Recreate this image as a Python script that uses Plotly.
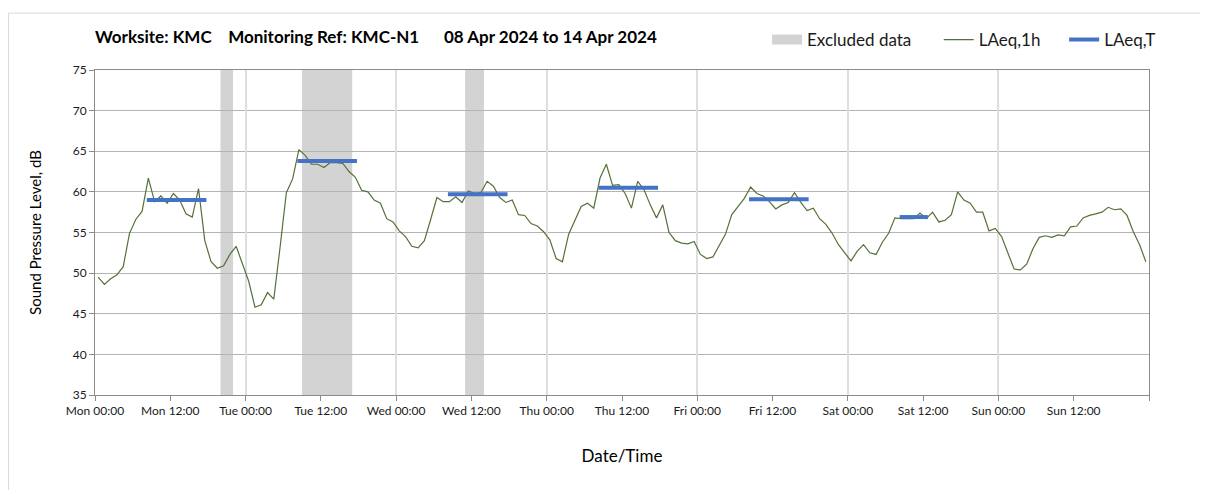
import pandas as pd
import plotly.graph_objs as go

# LAeq,1h values (dB), one per hour from Mon 08 Apr 2024 00:30
laeq_1h = [
    49.5, 48.6, 49.3, 49.8, 50.8, 54.9, 56.6, 57.6, 61.7, 58.8,
    59.5, 58.6, 59.8, 59.0, 57.3, 56.9, 60.4, 54.0, 51.4, 50.6,
    50.9, 52.3, 53.3, 51.1, 49.0, 45.8, 46.1, 47.6, 46.8, 53.2,
    59.9, 61.6, 65.2, 64.5, 63.4, 63.4, 63.0, 63.6, 63.6, 63.5,
    62.5, 61.8, 60.2, 60.0, 59.0, 58.6, 56.7, 56.3, 55.2, 54.5,
    53.3, 53.1, 54.0, 56.6, 59.3, 58.8, 58.8, 59.4, 58.7, 60.1,
    59.8, 59.9, 61.3, 60.7, 59.3, 58.7, 59.0, 57.2, 57.1, 56.1,
    55.8, 55.1, 54.1, 51.8, 51.4, 54.8, 56.5, 58.2, 58.6, 58.0,
    61.7, 63.4, 60.8, 60.9, 59.8, 58.0, 61.3, 60.3, 58.4, 56.8,
    58.4, 55.0, 54.0, 53.7, 53.6, 53.9, 52.3, 51.8, 52.0, 53.4,
    54.8, 57.2, 58.2, 59.2, 60.6, 59.8, 59.5, 58.8, 57.9, 58.4,
    58.7, 59.9, 58.7, 57.7, 58.0, 56.7, 56.0, 54.9, 53.5, 52.5,
    51.5, 52.7, 53.5, 52.5, 52.3, 53.8, 54.9, 56.8, 56.7, 56.7,
    56.7, 57.4, 56.7, 57.5, 56.3, 56.5, 57.2, 60.0, 59.0, 58.6,
    57.5, 57.5, 55.2, 55.5, 54.5, 52.5, 50.5, 50.4, 51.1, 53.0,
    54.4, 54.6, 54.4, 54.7, 54.6, 55.7, 55.8, 56.8, 57.1, 57.3,
    57.5, 58.1, 57.8, 57.9, 57.1, 55.1, 53.5, 51.4,
]

# LAeq,T daytime periods
laeqt_start = ["2024-04-08 08:15", "2024-04-09 08:15", "2024-04-10 08:15",
               "2024-04-11 08:15", "2024-04-12 08:15", "2024-04-13 08:15"]
laeqt_end = ["2024-04-08 17:45", "2024-04-09 17:45", "2024-04-10 17:45",
             "2024-04-11 17:45", "2024-04-12 17:45", "2024-04-13 12:45"]
laeqt_values = [59.0, 63.8, 59.7, 60.5, 59.1, 56.9]

# excluded data periods
excl_start = ["2024-04-08 20:00", "2024-04-09 09:00", "2024-04-10 11:00"]
excl_end = ["2024-04-08 22:00", "2024-04-09 17:00", "2024-04-10 14:00"]

tick_labels = ["Mon 00:00", "Mon 12:00", "Tue 00:00", "Tue 12:00", "Wed 00:00",
               "Wed 12:00", "Thu 00:00", "Thu 12:00", "Fri 00:00", "Fri 12:00",
               "Sat 00:00", "Sat 12:00", "Sun 00:00", "Sun 12:00", ""]

FONT = "Lato"
x_start, x_end = "2024-04-08 00:00", "2024-04-15 00:00"
H = 482

times = pd.date_range("2024-04-08 00:30", periods=len(laeq_1h), freq="h")
tickvals = pd.date_range(x_start, periods=len(tick_labels), freq="12h")

fig = go.Figure()

# legend entry for excluded data (the rectangles themselves are shapes)
fig.add_trace(go.Scatter(x=[None], y=[None], mode="lines", name="Excluded data",
                         line=dict(color="#D3D3D3", width=13), legend="legend"))

fig.add_trace(go.Scatter(x=times, y=laeq_1h, mode="lines", name="LAeq,1h",
                         line=dict(color="#56703A", width=1.2), legend="legend2"))

tx, ty = [], []
for s, e, v in zip(laeqt_start, laeqt_end, laeqt_values):
    tx += [s, e, None]
    ty += [v, v, None]
fig.add_trace(go.Scatter(x=tx, y=ty, mode="lines", name="LAeq,T",
                         line=dict(color="#4472C4", width=4), legend="legend3"))

# dummy trace on the overlay axis so its daily gridlines are drawn
fig.add_trace(go.Scatter(x=[x_start], y=[None], xaxis="x2", showlegend=False,
                         hoverinfo="skip"))

for s, e in zip(excl_start, excl_end):
    fig.add_shape(type="rect", xref="x", yref="paper", x0=s, x1=e, y0=0, y1=1,
                  fillcolor="#D3D3D3", line_width=0, layer="below")

# outer chart border
fig.add_shape(type="rect", xref="paper", yref="paper", x0=-0.082, x1=1.2,
              y0=-0.5, y1=1.175, line=dict(color="#D9D9D9", width=1),
              fillcolor="rgba(0,0,0,0)")

leg = dict(orientation="h", xanchor="left", yref="container", y=1 - 32 / H,
           yanchor="middle", font=dict(size=17, family=FONT, color="#1a1a1a"),
           bgcolor="rgba(0,0,0,0)")

fig.update_layout(
    width=1200, height=H,
    margin=dict(l=87, r=59, t=58, b=95),
    plot_bgcolor="white", paper_bgcolor="white",
    font=dict(family=FONT, color="#000000", size=12),
    title=dict(text="<b>Worksite: KMC    Monitoring Ref: KMC-N1      08 Apr 2024 to 14 Apr 2024</b>",
               x=0, xref="paper", xanchor="left", y=1 - 29 / H, yref="container",
               yanchor="middle", font=dict(size=17, family=FONT, color="#000000")),
    legend=dict(leg, x=0.6376),
    legend2=dict(leg, x=0.8005),
    legend3=dict(leg, x=0.9195),
    xaxis=dict(type="date", range=[x_start, x_end], tickvals=tickvals,
               ticktext=tick_labels, ticks="outside", ticklen=5, tickcolor="#8C8C8C",
               showgrid=False, showline=True, linecolor="#8C8C8C", mirror=True,
               automargin=False, tickfont=dict(size=12, color="#1a1a1a"),
               title=dict(text="Date/Time", font=dict(size=17), standoff=32)),
    xaxis2=dict(type="date", range=[x_start, x_end], overlaying="x", dtick=86400000,
                tick0=x_start, showticklabels=False, showgrid=True,
                gridcolor="#DEDEDE", gridwidth=1.5, ticks="", showline=False),
    yaxis=dict(range=[35, 75], dtick=5, ticks="outside", ticklen=5, tickcolor="#8C8C8C",
               showgrid=True, gridcolor="#B4B4B4", showline=True, linecolor="#8C8C8C",
               mirror=True, zeroline=False, automargin=False,
               tickfont=dict(size=12, color="#1a1a1a"),
               title=dict(text="Sound Pressure Level, dB", font=dict(size=15), standoff=27)),
)

fig.write_html("out.html")
